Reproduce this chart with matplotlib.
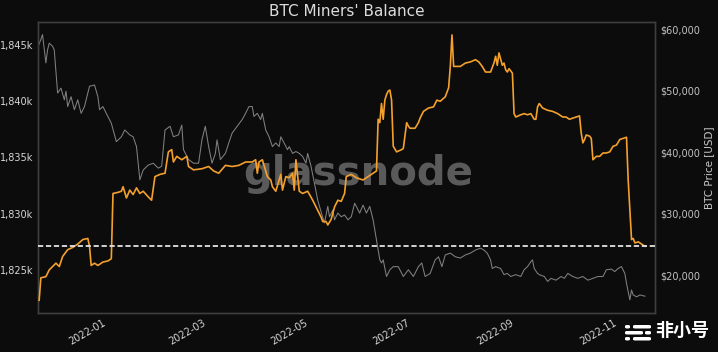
import matplotlib
matplotlib.use('Agg')
import matplotlib.pyplot as plt
import matplotlib.dates as mdates
from matplotlib.ticker import FuncFormatter, MultipleLocator
from matplotlib.patches import FancyBboxPatch
import pandas as pd

# days counted from ORIGIN (negative = late 2021)
ORIGIN = '2022-01-01'

# miners' balance, thousands of BTC
bal_days = [-38, -37, -34, -32, -30, -28, -26, -24, -21, -18, -15, -12, -9, -8, -7, -5, -3, 0, 3, 5,
            6, 9, 11, 12, 14, 16, 18, 20, 22, 24, 27, 29, 31, 34, 37, 39, 41, 42, 44, 47,
            50, 51, 54, 59, 63, 66, 69, 73, 77, 81, 85, 89, 91, 92, 93, 95, 98, 100, 101, 103,
            106, 107, 109, 111, 113, 114, 115, 117, 119, 122, 125, 127, 130, 131, 133, 134, 136, 138, 140, 142,
            144, 145, 148, 151, 155, 158, 161, 163, 164, 165, 166, 167, 168, 169, 170, 171, 172, 173, 175, 178,
            179, 181, 182, 183, 186, 188, 189, 191, 194, 197, 199, 201, 204, 206, 207, 208, 209, 213, 216, 219,
            222, 224, 226, 228, 231, 233, 234, 235, 236, 238, 239, 240, 241, 242, 244, 245, 246, 249, 251, 253,
            255, 257, 258, 259, 260, 262, 265, 268, 271, 274, 276, 278, 280, 282, 284, 285, 286, 287, 288, 290,
            291, 292, 294, 296, 298, 300, 302, 304, 306, 308, 310, 312, 313, 315, 316, 317, 319, 321, 323]
bal_k = [1822.3, 1824.3, 1824.4, 1825.0, 1825.3, 1825.6, 1825.3, 1826.2, 1826.8, 1827.0,
         1827.3, 1827.7, 1827.8, 1827.1, 1825.4, 1825.6, 1825.4, 1825.7, 1825.8, 1826.0,
         1831.8, 1831.9, 1832.0, 1832.4, 1831.4, 1832.1, 1831.7, 1832.3, 1831.8, 1832.0,
         1831.5, 1831.2, 1833.3, 1833.5, 1833.6, 1835.5, 1835.7, 1834.6, 1835.1, 1834.8,
         1835.1, 1834.2, 1833.9, 1834.0, 1834.2, 1833.8, 1833.6, 1834.3, 1834.2, 1834.3,
         1834.6, 1834.6, 1834.8, 1833.6, 1834.6, 1834.8, 1833.3, 1833.0, 1832.4, 1832.0,
         1833.5, 1832.1, 1833.3, 1833.2, 1833.6, 1832.1, 1834.8, 1832.0, 1831.8, 1832.0,
         1831.2, 1830.6, 1829.7, 1829.3, 1829.3, 1829.0, 1829.5, 1830.6, 1831.2, 1831.1,
         1831.8, 1833.3, 1833.5, 1833.2, 1833.0, 1833.3, 1833.6, 1833.8, 1838.4, 1838.1,
         1839.8, 1838.4, 1840.1, 1840.6, 1840.9, 1841.0, 1840.1, 1836.0, 1835.5, 1835.7,
         1835.8, 1838.1, 1837.8, 1837.6, 1837.6, 1838.1, 1838.5, 1839.1, 1839.4, 1839.5,
         1840.1, 1840.0, 1840.4, 1841.2, 1843.1, 1845.9, 1843.1, 1843.1, 1843.4, 1843.5,
         1843.7, 1843.5, 1843.1, 1842.6, 1842.6, 1843.4, 1844.0, 1843.2, 1844.3, 1843.2,
         1843.4, 1842.8, 1842.6, 1842.9, 1842.5, 1838.9, 1838.6, 1838.8, 1838.9, 1838.8,
         1838.9, 1838.4, 1838.4, 1839.5, 1839.8, 1839.4, 1839.2, 1839.1, 1838.9, 1838.6,
         1838.6, 1838.4, 1838.5, 1838.6, 1838.7, 1837.2, 1836.3, 1836.6, 1837.0, 1836.9,
         1836.7, 1834.8, 1835.1, 1835.1, 1835.4, 1835.4, 1835.5, 1836.0, 1836.1, 1836.6,
         1836.7, 1836.8, 1833.0, 1827.7, 1827.8, 1827.4, 1827.5, 1827.3, 1827.1]

# BTC price, USD
price_days = [-39, -37, -36, -34, -33, -32, -30, -29, -27, -25, -23, -22, -21, -19, -17, -15, -13, -11, -8, -5,
              -3, -2, 0, 2, 5, 8, 11, 13, 16, 18, 20, 22, 24, 27, 30, 33, 35, 37, 40, 42,
              45, 47, 48, 51, 54, 57, 59, 61, 63, 65, 67, 68, 70, 73, 75, 77, 80, 83, 85, 87,
              89, 90, 92, 94, 95, 97, 99, 101, 103, 105, 106, 107, 110, 111, 113, 115, 117, 119, 121, 122,
              124, 126, 128, 130, 132, 134, 135, 137, 138, 140, 142, 144, 146, 148, 150, 151, 153, 155, 157, 159,
              161, 163, 165, 166, 167, 169, 171, 173, 176, 179, 182, 185, 188, 190, 192, 195, 198, 200, 202, 204,
              207, 210, 213, 216, 219, 222, 225, 227, 229, 231, 232, 234, 237, 239, 241, 243, 246, 249, 251, 253,
              255, 256, 257, 259, 260, 263, 265, 267, 270, 273, 275, 277, 280, 283, 286, 289, 292, 295, 298, 300,
              303, 305, 307, 309, 311, 312, 314, 315, 316, 318, 320, 323]
price_usd = [56900, 58300, 59100, 54500, 56600, 57700, 57200, 56600, 49600, 50400,
             48500, 49900, 47400, 49000, 46900, 48500, 46300, 47400, 50700, 50900,
             49000, 46900, 47400, 46300, 44700, 41700, 42500, 43600, 42800, 42500,
             40900, 35500, 37100, 37900, 38200, 37400, 37700, 43600, 44200, 42500,
             42800, 44400, 40400, 38800, 38200, 38200, 42000, 44200, 40900, 38200,
             39800, 42000, 38800, 39800, 41500, 43100, 44200, 45300, 46300, 47400,
             47400, 45800, 46300, 45300, 46300, 43600, 42500, 40900, 41500, 40900,
             42500, 42000, 40400, 40900, 39800, 40100, 39800, 39300, 38200, 39800,
             37700, 35000, 32200, 30300, 28500, 31200, 29500, 30600, 29000, 30100,
             29500, 29800, 29000, 29500, 31700, 31200, 30100, 31400, 30100, 31200,
             29000, 25700, 22500, 22000, 22500, 19800, 20900, 21400, 21400, 19800,
             20900, 19800, 21400, 22000, 19800, 20300, 22500, 23000, 21400, 23300,
             23600, 23000, 22800, 23300, 23600, 24100, 24400, 24100, 23600, 22500,
             21100, 21400, 21100, 20100, 20300, 19800, 20100, 19800, 20900, 21400,
             22200, 22500, 21100, 20300, 20100, 19800, 19000, 19500, 19200, 19800,
             19500, 20300, 19800, 19500, 19800, 19200, 19500, 19800, 19800, 20900,
             21000, 20600, 21100, 21400, 20300, 18700, 16000, 17600, 16800, 16500,
             16800, 16600]

BG = '#0c0c0c'
ORANGE = '#f4a02c'
GREY = '#808080'

origin = pd.Timestamp(ORIGIN)
bal_dates = origin + pd.to_timedelta(bal_days, unit='D')
price_dates = origin + pd.to_timedelta(price_days, unit='D')

fig = plt.figure(figsize=(7.18, 3.52), dpi=100, facecolor=BG)
ax = fig.add_axes([0.0529, 0.1108, 0.8594, 0.8267])
ax2 = ax.twinx()
ax.set_zorder(ax2.get_zorder() + 1)
ax.patch.set_visible(False)

# watermark sits under the lines
ax2.text(0.519, 0.44, 'glassnode', transform=ax2.transAxes, fontsize=29, fontweight='bold',
         color='#5a5a5a', ha='center', va='baseline', zorder=0)

ax2.plot(price_dates, price_usd, color=GREY, lw=0.75, zorder=2)
ax.plot(bal_dates, bal_k, color=ORANGE, lw=1.2, zorder=3)
ax.axhline(bal_k[-1], color='#e2e2e2', lw=1.3, ls=(0, (2.9, 1.5)), zorder=4)

ax.set_xlim(origin + pd.Timedelta(days=-38.7), origin + pd.Timedelta(days=329))
ax.set_ylim(1821.17, 1847.05)
ax2.set_ylim(13870, 61140)

ax.yaxis.set_major_locator(MultipleLocator(5))
ax.yaxis.set_major_formatter(FuncFormatter(lambda v, _: f'{v:,.0f}k'))
ax2.yaxis.set_major_locator(MultipleLocator(10000))
ax2.yaxis.set_major_formatter(FuncFormatter(lambda v, _: f'${v:,.0f}'))
ax.xaxis.set_major_locator(mdates.MonthLocator(bymonth=[1, 3, 5, 7, 9, 11]))
ax.xaxis.set_major_formatter(mdates.DateFormatter('%Y-%m'))

ax.tick_params(axis='y', length=0, pad=3.6, labelsize=7, labelcolor='#d6d6d6')
ax.tick_params(axis='x', length=0, pad=3.6, labelsize=7, labelcolor='#d6d6d6')
ax2.tick_params(axis='y', length=0, pad=3.6, labelsize=7, labelcolor='#c2c2c2')
for lbl in ax.get_xticklabels():
    lbl.set_rotation(30)
    lbl.set_ha('right')
    lbl.set_rotation_mode('anchor')

ax2.set_ylabel('BTC Price [USD]', fontsize=7.5, color='#c8c8c8', labelpad=3)

for a in (ax, ax2):
    for sp in a.spines.values():
        sp.set_color('#3e3e3e')
        sp.set_linewidth(1.0)

fig.text(0.4826, 0.966, "BTC Miners' Balance", fontsize=11, color='#dcdcdc',
         ha='center', va='center')

# feixiaohao corner mark
fig.text(0.912, 0.06, '非小号', fontsize=13, fontweight='bold', color='white',
         family=['Noto Sans CJK SC', 'DejaVu Sans'], ha='left', va='center')
icon = [(625, 325, 5, 3.5), (633, 325, 18, 3.5),
        (625, 331, 18, 3.5), (645, 331, 6, 3.5),
        (625, 337, 5, 3.5), (633, 337, 18, 3.5)]
for px, py, w, h in icon:
    fig.patches.append(FancyBboxPatch((px / 718, 1 - (py + h) / 352), w / 718, h / 352,
                                      boxstyle='round,pad=0,rounding_size=0.003',
                                      transform=fig.transFigure, facecolor='white',
                                      edgecolor='none'))

fig.savefig('out.png', dpi=100, facecolor=BG)
